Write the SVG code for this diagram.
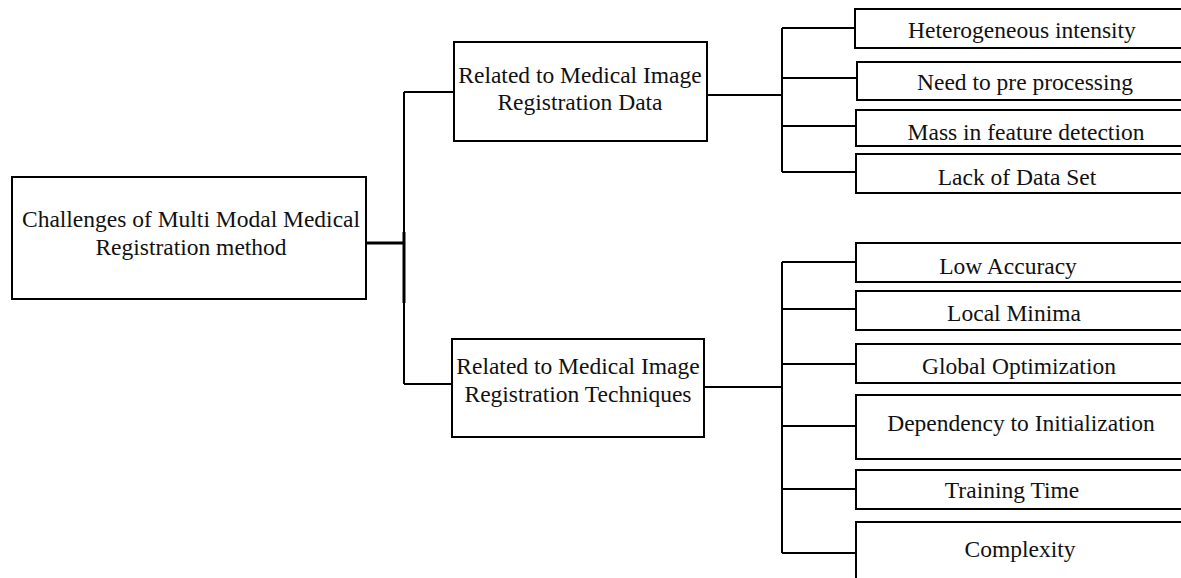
<svg xmlns="http://www.w3.org/2000/svg" width="1181" height="578" viewBox="0 0 1181 578">
<style>
.box{fill:#fff;stroke:#000;stroke-width:2}
.t{font-family:"Liberation Serif","Times New Roman",serif;font-size:23.5px;fill:#111;text-anchor:middle}
.c{fill:none;stroke:#000;stroke-width:2}
</style>
<rect width="1181" height="578" fill="#fff"/>
<g id="connectors">
<path class="c" d="M366 243H404" style="stroke-width:3"/>
<path class="c" d="M404 92V384"/>
<path class="c" d="M404 232V303" style="stroke-width:3"/>
<path class="c" d="M404 92H454"/>
<path class="c" d="M404 384H452"/>
<path class="c" d="M707 95H782"/>
<path class="c" d="M782 28V172"/>
<path class="c" d="M782 28H855M782 78H857M781 126H856M782 172H856"/>
<path class="c" d="M704 387H782"/>
<path class="c" d="M782 262V553"/>
<path class="c" d="M782 262H856M781 309H856M782 364H856M782 426H856M782 489H856M782 553H856"/>
</g>
<g id="root">
<rect class="box" x="12" y="177" width="354" height="122"/>
<text class="t" x="191" y="227">Challenges of Multi Modal Medical</text>
<text class="t" x="191" y="255">Registration method</text>
</g>
<g id="data">
<rect class="box" x="454" y="42" width="253" height="99"/>
<text class="t" x="580" y="83">Related to Medical Image</text>
<text class="t" x="580" y="110">Registration Data</text>
</g>
<g id="techniques">
<rect class="box" x="452" y="339" width="252" height="98"/>
<text class="t" x="578" y="374">Related to Medical Image</text>
<text class="t" x="578" y="402">Registration Techniques</text>
</g>
<g id="hetero">
<rect class="box" x="855" y="9" width="340" height="39"/>
<text class="t" x="1022" y="38">Heterogeneous intensity</text>
</g>
<g id="preproc">
<rect class="box" x="857" y="62" width="340" height="38"/>
<text class="t" x="1025" y="90">Need to pre processing</text>
</g>
<g id="mass">
<rect class="box" x="856" y="110" width="340" height="36"/>
<text class="t" x="1026" y="140">Mass in feature detection</text>
</g>
<g id="lack">
<rect class="box" x="856" y="154" width="340" height="39"/>
<text class="t" x="1017" y="185">Lack of Data Set</text>
</g>
<g id="accuracy">
<rect class="box" x="856" y="243" width="340" height="39"/>
<text class="t" x="1008" y="274">Low Accuracy</text>
</g>
<g id="minima">
<rect class="box" x="856" y="291" width="340" height="39"/>
<text class="t" x="1014" y="321">Local Minima</text>
</g>
<g id="global">
<rect class="box" x="856" y="344" width="340" height="39"/>
<text class="t" x="1019" y="374">Global Optimization</text>
</g>
<g id="dependency">
<rect class="box" x="856" y="395" width="340" height="64"/>
<text class="t" x="1021" y="431">Dependency to Initialization</text>
</g>
<g id="training">
<rect class="box" x="856" y="470" width="340" height="39"/>
<text class="t" x="1012" y="498">Training Time</text>
</g>
<g id="complexity">
<rect class="box" x="856" y="522" width="340" height="80"/>
<text class="t" x="1020" y="557">Complexity</text>
</g>
</svg>
